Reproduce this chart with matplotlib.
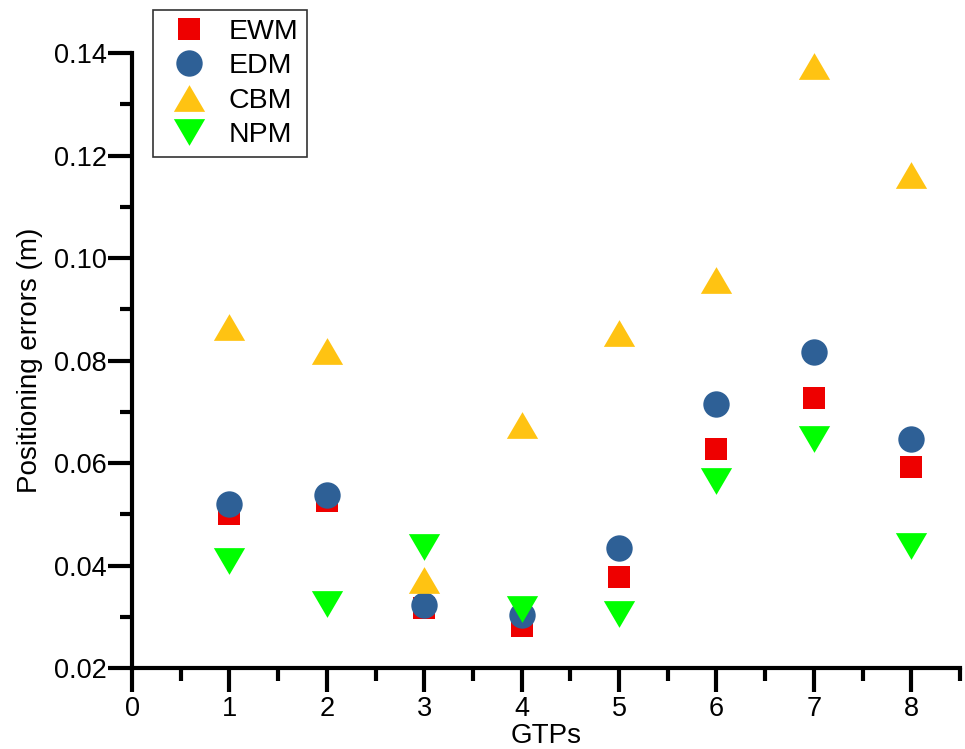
import numpy as np
import matplotlib
matplotlib.use('Agg')
import matplotlib.pyplot as plt
from matplotlib.ticker import MultipleLocator

plt.rcParams['font.family'] = ['Liberation Sans', 'DejaVu Sans']

# positioning errors (m) for each GTP
gtps = [1, 2, 3, 4, 5, 6, 7, 8]
ewm = [0.0500, 0.0526, 0.0317, 0.0282, 0.0378, 0.0627, 0.0727, 0.0592]
edm = [0.0520, 0.0537, 0.0323, 0.0303, 0.0434, 0.0716, 0.0817, 0.0646]
cbm = [0.0866, 0.0819, 0.0372, 0.0674, 0.0853, 0.0958, 0.1374, 0.1162]
npm = [0.0408, 0.0324, 0.0437, 0.0316, 0.0306, 0.0564, 0.0646, 0.0438]

# wide triangles (custom marker paths)
tri_up = [(0, 1), (-1.17, -1), (1.17, -1), (0, 1)]
tri_down = [(0, -1), (-1.17, 1), (1.17, 1), (0, -1)]

fig = plt.figure(figsize=(9.65, 7.49), dpi=100)
ax = fig.add_axes([0.1368, 0.1081, 0.858, 0.8211])

ax.plot(gtps, ewm, ls='none', marker='s', ms=16.5, color='#ee0000', mew=0, label='EWM', clip_on=False)
ax.plot(gtps, edm, ls='none', marker='o', ms=19, color='#2e6096', mew=0, label='EDM', clip_on=False)
ax.plot(gtps, cbm, ls='none', marker=tri_up, ms=22.5, color='#ffc312', mew=0, label='CBM', clip_on=False)
ax.plot(gtps, npm, ls='none', marker=tri_down, ms=22.5, color='#00ff00', mew=0, label='NPM', clip_on=False)

ax.set_xlim(0, 8.5)
ax.set_ylim(0.02, 0.14)
ax.xaxis.set_major_locator(MultipleLocator(1))
ax.xaxis.set_minor_locator(MultipleLocator(0.5))
ax.yaxis.set_major_locator(MultipleLocator(0.02))
ax.yaxis.set_minor_locator(MultipleLocator(0.01))
ax.yaxis.set_major_formatter(plt.FormatStrFormatter('%.2f'))

for s in ['top', 'right']:
    ax.spines[s].set_visible(False)
for s in ['left', 'bottom']:
    ax.spines[s].set_linewidth(3)

ax.tick_params(which='major', direction='out', length=17, width=3, labelsize=19.5, pad=3)
ax.tick_params(which='minor', direction='out', length=9, width=3)
ax.tick_params(axis='y', which='major', pad=1)

ax.set_xlabel('GTPs', fontsize=20, labelpad=1)
ax.set_ylabel('Positioning errors (m)', fontsize=20, labelpad=8)

leg = ax.legend(loc='upper left', bbox_to_anchor=(153 / 965, 1 - 10 / 749),
                bbox_transform=fig.transFigure, fontsize=20.5, frameon=True,
                fancybox=False, edgecolor='black', borderpad=0.3,
                labelspacing=0.3, handletextpad=0.45, handlelength=1.9,
                borderaxespad=0)
leg.get_frame().set_linewidth(1.2)

plt.savefig('out.png', dpi=100)
